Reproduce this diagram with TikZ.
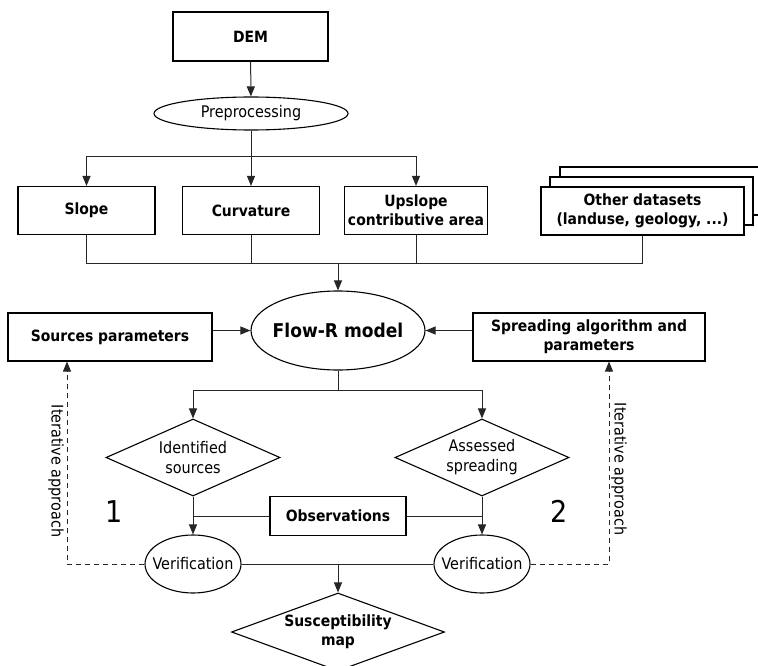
\documentclass[tikz,border=0pt]{standalone}
\usepackage{fontspec}
\setmainfont{DejaVu Sans Condensed}
\usepackage{tikz}
\usetikzlibrary{shapes.geometric,arrows.meta}

\begin{document}
\begin{tikzpicture}[x=1pt,y=-1pt,
    databox/.style={
% The shape:
rectangle,
% The size:
      minimum width=137pt, minimum height=48pt,
% The border:
      line width=1.1pt,
      draw=black, fill=white,
% Font
font=\bfseries\fontsize{15.5}{19}\selectfont, align=center
    },
    sheet/.style={databox, minimum width=203pt},
    process/.style={
% The shape:
ellipse, inner sep=0pt,
% The border:
      line width=1.1pt, draw=black, fill=white,
% Font
font=\fontsize{16}{20}\selectfont, align=center
    },
    outcome/.style={
% The shape:
diamond, inner sep=0pt, aspect=2.26,
% The border:
      line width=1.1pt, draw=black, fill=white,
% Font
font=\fontsize{16}{20}\selectfont, align=center
    },
    note/.style={font=\fontsize{16}{20}\selectfont, inner sep=0pt},
    stage/.style={font=\fontsize{30}{34}\selectfont, inner sep=0pt},
    link/.style={line width=1pt, draw=black!85},
    arr/.style={link, -{Triangle[length=10pt,width=8pt]}},
    loopback/.style={arr, dash pattern=on 5pt off 4pt}
  ]
  \useasboundingbox (0,0) rectangle (758,666);

  % inputs
  \node [databox, minimum width=155pt, minimum height=49pt] (dem) at (250.5,36.5) {DEM};
  \node [process, minimum width=194pt, minimum height=33pt] (prep) at (251,113.5) {Preprocessing};
  \node [databox] (slope) at (86.5,210.5) {Slope};
  \node [databox] (curv) at (251,210.5) {Curvature};
  \node [databox] (upsl) at (416,210.5) {Upslope\\contributive area};
  \node [sheet, minimum width=210pt] (sheetC) at (665,191) {};
  \node [sheet] (sheetB) at (651.5,201) {};
  \node [databox, minimum width=203pt] (other) at (642.5,211) {Other datasets\\(landuse, geology, ...)};

  % model and its parameters
  \node [process, font=\bfseries\fontsize{19}{23}\selectfont, inner xsep=-5pt,
         minimum width=174pt, minimum height=79pt] (flowr) at (338,330.5) {Flow-R model};
  \node [databox, minimum width=204pt] (src) at (110,337) {Sources parameters};
  \node [databox, minimum width=232pt] (spread) at (589,337) {Spreading algorithm and\\parameters};

  % results and checks
  \node [outcome, minimum width=174pt, minimum height=77pt] (ident) at (193,457.5) {Identified\\sources};
  \node [outcome, minimum width=174pt, minimum height=77pt] (assess) at (482,457.5) {Assessed\\spreading};
  \node [databox, minimum width=136pt, minimum height=39pt] (obs) at (338,516) {Observations};
  \node [process, inner xsep=-8pt, minimum width=96pt, minimum height=58pt] (verL) at (193,564) {Verification};
  \node [process, inner xsep=-8pt, minimum width=96pt, minimum height=58pt] (verR) at (482,564) {Verification};
  \node [outcome, aspect=2.73, font=\bfseries\fontsize{15.5}{19}\selectfont,
         minimum width=213pt, minimum height=78pt] (susc) at (338,632) {Susceptibility\\map};

  \node [note, rotate=-90] (iterL) at (56,471) {Iterative approach};
  \node [note, rotate=-90] (iterR) at (619,469) {Iterative approach};
  \node [stage] (one) at (114.5,511.5) {1};
  \node [stage] (two) at (559,511.5) {2};

  \coordinate (split) at (251,157);
  \coordinate (collect) at (338,263.5);
  \coordinate (fork) at (338,390);
  \coordinate (merge) at (338,564);
  \coordinate (loopL) at (67,564);
  \coordinate (loopR) at (609,564);

  % connectors
  \draw [arr] (dem) -- (prep);
  \draw [arr] (prep) -- (curv);
  \draw [arr] (split) -| (slope);
  \draw [arr] (split) -| (upsl);
  \draw [link] (slope) |- (other.south |- collect) -- (other);
  \draw [link] (curv) -- (curv |- collect);
  \draw [link] (upsl) -- (upsl |- collect);
  \draw [arr] (collect) -- (flowr);
  \draw [arr] (src.east |- flowr.west) -- (flowr.west);
  \draw [arr] (spread.west |- flowr.east) -- (flowr.east);
  \draw [link] (flowr) -- (fork);
  \draw [arr] (fork) -| (ident);
  \draw [arr] (fork) -| (assess);
  \draw [arr] (ident) -- (verL);
  \draw [arr] (assess) -- (verR);
  \draw [link] (obs) -- (obs -| ident);
  \draw [link] (obs) -- (obs -| assess);
  \draw [link] (verL) -- (verR);
  \draw [arr] (merge) -- (susc);
  \draw [loopback] (verL) -- (loopL) -- (loopL |- src.south);
  \draw [loopback] (verR) -- (loopR) -- (loopR |- spread.south);
\end{tikzpicture}
\end{document}
